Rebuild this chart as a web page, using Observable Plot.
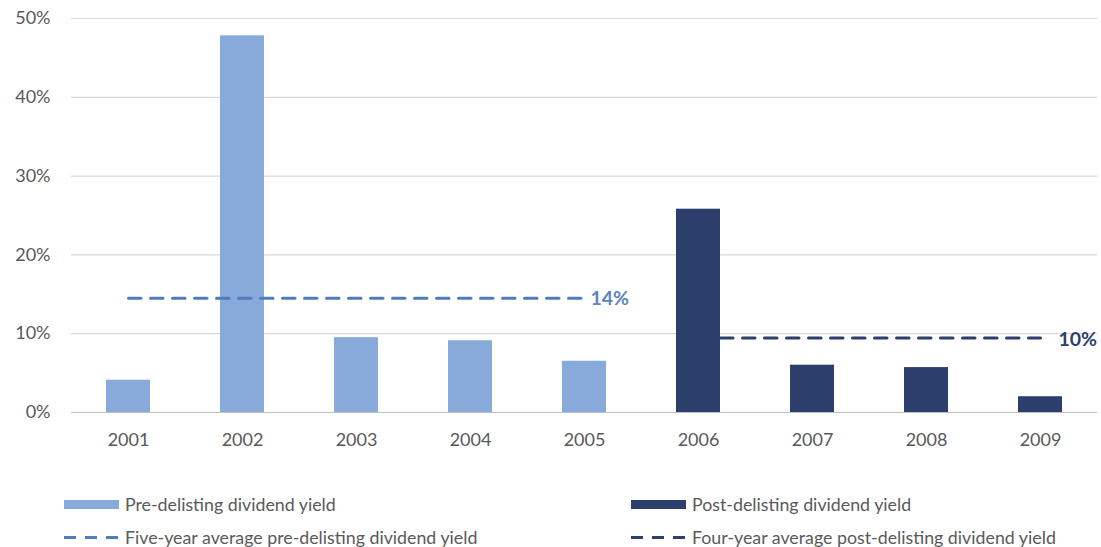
<!DOCTYPE html>
<html>
<head>
<meta charset="utf-8">
<script src="https://cdn.jsdelivr.net/npm/d3@7"></script>
<script src="https://cdn.jsdelivr.net/npm/@observablehq/plot@0.6"></script>
<style>
  html, body { margin: 0; padding: 0; background: #fff; }
  #wrap { position: relative; width: 1101px; height: 547px; font-family: Lato, "Open Sans", sans-serif; color: #595959; }
  #legend { position: absolute; left: 0; top: 0; width: 1101px; height: 547px; pointer-events: none; }
  .item { position: absolute; display: flex; align-items: center; font-size: 17.8px; color: #595959; white-space: nowrap; transform: translateY(-50%); }
  .sw { width: 55px; height: 9px; margin-right: 6px; }
  .dash { width: 55px; height: 3px; margin-right: 6px; }
</style>
</head>
<body>
<div id="wrap"><div id="chart"></div><div id="legend"></div></div>
<script>
const years = ["2001","2002","2003","2004","2005","2006","2007","2008","2009"];
const preYield = [0.041, 0.478, 0.095, 0.091, 0.065];
const postYield = [0.258, 0.060, 0.057, 0.020];
const preAvg = 0.145;
const postAvg = 0.0945;
const preAvgLabel = "14%";
const postAvgLabel = "10%";
const seriesNames = ["Pre-delisting dividend yield", "Post-delisting dividend yield",
  "Five-year average pre-delisting dividend yield", "Four-year average post-delisting dividend yield"];
const yTicks = [0, 0.1, 0.2, 0.3, 0.4, 0.5];

const preColor = "#88aadb", postColor = "#2c3e6c";
const preLine = "#4f7cbb", postLine = "#2c3e6c";

const bars = [
  ...years.slice(0, 5).map((y, i) => ({year: y, v: preYield[i], type: "pre"})),
  ...years.slice(5).map((y, i) => ({year: y, v: postYield[i], type: "post"}))
];
const preLineData = years.slice(0, 5).map(y => ({year: y, v: preAvg}));
const postLineData = years.slice(5).map(y => ({year: y, v: postAvg}));

const chart = Plot.plot({
  width: 1101,
  height: 457,
  marginLeft: 71,
  marginRight: 4,
  marginTop: 18,
  marginBottom: 45,
  style: {fontFamily: "Lato, 'Open Sans', sans-serif", fontSize: "18px", color: "#595959", background: "white"},
  x: {domain: years, paddingInner: 0.614, paddingOuter: 0.307, label: null, tickSize: 0, tickPadding: 21},
  y: {domain: [0, 0.5], ticks: yTicks, tickFormat: d3.format(".0%"), label: null, tickSize: 0, tickPadding: 21, grid: false},
  color: {domain: ["pre", "post"], range: [preColor, postColor]},
  marks: [
    Plot.gridY(yTicks.slice(1), {stroke: "#d9d9d9", strokeOpacity: 1, strokeWidth: 1.2}),
    Plot.ruleY([0], {stroke: "#bfbfbf", strokeWidth: 1.2}),
    Plot.line(postLineData, {x: "year", y: "v", stroke: postLine, strokeWidth: 3, strokeDasharray: "12.5,9.5"}),
    Plot.barY(bars, {x: "year", y: "v", fill: "type"}),
    Plot.line(preLineData, {x: "year", y: "v", stroke: preLine, strokeWidth: 3, strokeDasharray: "12.5,9.5"}),
    Plot.text([{year: "2005", v: preAvg, t: preAvgLabel}], {x: "year", y: "v", text: "t", dx: 6, dy: 1, textAnchor: "start", fill: "#5b84c2", fontWeight: "bold", fontSize: 19.5}),
    Plot.text([{year: "2009", v: postAvg, t: postAvgLabel}], {x: "year", y: "v", text: "t", dx: 18, dy: 2, textAnchor: "start", fill: postColor, fontWeight: "bold", fontSize: 19.5})
  ]
});
chart.querySelectorAll("[aria-label='x-axis tick label'] text, [aria-label='y-axis tick label'] text").forEach(t => t.setAttribute("fill", "#595959"));
document.getElementById("chart").appendChild(chart);

const legend = document.getElementById("legend");
const items = [
  {name: seriesNames[0], kind: "sw", color: preColor, x: 64, y: 504},
  {name: seriesNames[1], kind: "sw", color: postColor, x: 631, y: 504},
  {name: seriesNames[2], kind: "dash", color: preLine, x: 64, y: 537},
  {name: seriesNames[3], kind: "dash", color: postLine, x: 631, y: 537}
];
for (const it of items) {
  const d = document.createElement("div");
  d.className = "item";
  d.style.left = it.x + "px";
  d.style.top = it.y + "px";
  const s = document.createElement("div");
  s.className = it.kind;
  if (it.kind === "sw") s.style.background = it.color;
  else s.style.background = `repeating-linear-gradient(to right, ${it.color} 0 12px, transparent 12px 21px)`;
  d.appendChild(s);
  const t = document.createElement("span");
  t.textContent = it.name;
  d.appendChild(t);
  legend.appendChild(d);
}
</script>
</body>
</html>
